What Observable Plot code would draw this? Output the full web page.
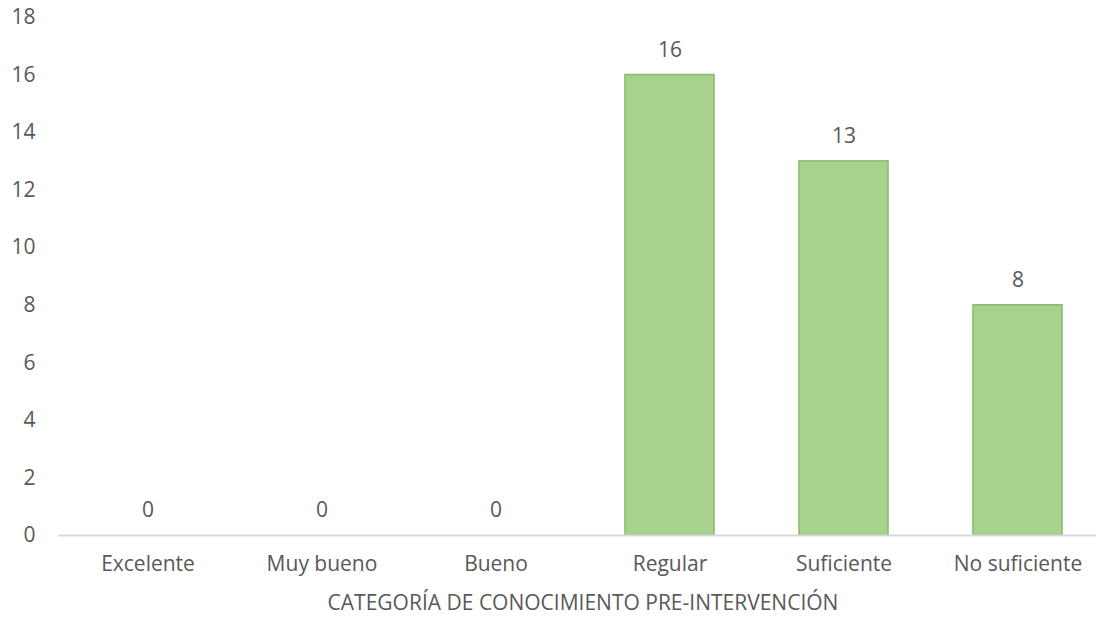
<!DOCTYPE html>
<html>
<head>
<meta charset="utf-8">
<script src="https://cdn.jsdelivr.net/npm/d3@7"></script>
<script src="https://cdn.jsdelivr.net/npm/@observablehq/plot@0.6"></script>
<style>
  html, body { margin: 0; padding: 0; background: #fff; overflow: hidden; }
  #chart { width: 1096px; height: 618px; overflow: hidden; }
  #chart svg { max-width: none !important; width: 1108px !important; height: 618px !important; font-family: "Open Sans", sans-serif; }
</style>
</head>
<body>
<div id="chart"></div>
<script>
const categories = ["Excelente", "Muy bueno", "Bueno", "Regular", "Suficiente", "No suficiente"];
const values = [0, 0, 0, 16, 13, 8];
const yTicks = [0, 2, 4, 6, 8, 10, 12, 14, 16, 18];
const xTitle = "CATEGORÍA DE CONOCIMIENTO PRE-INTERVENCIÓN";

const data = categories.map((c, i) => ({category: c, value: values[i]}));

const chart = Plot.plot({
  width: 1108,
  height: 618,
  marginLeft: 58,
  marginRight: 1,
  marginTop: 17,
  marginBottom: 83,
  style: {fontFamily: "Open Sans, sans-serif", fontSize: "21px", color: "#595959", background: "#fff", maxWidth: "none"},
  x: {domain: categories, paddingInner: 0.49, paddingOuter: 0.245, label: null},
  y: {domain: [0, 18], ticks: yTicks, label: null},
  marks: [
    Plot.barY(data, {x: "category", y: "value", fill: "#a9d18e", stroke: "#88b96c", strokeWidth: 1.5}),
    Plot.ruleY([0], {stroke: "#d9d9d9", strokeWidth: 2}),
    Plot.text(data, {x: "category", y: "value", text: d => String(d.value), dy: -25, fill: "#595959", fontSize: 21}),
    Plot.axisY({ticks: yTicks, tickSize: 0, tickPadding: 23, fontSize: 21, fill: "#595959", label: null}),
    Plot.axisX({tickSize: 0, tickPadding: 21, fontSize: 21, fill: "#595959", label: null}),
    Plot.text([xTitle], {frameAnchor: "bottom", lineAnchor: "middle", dy: 68, fontSize: 21, fill: "#595959"})
  ]
});
document.getElementById("chart").appendChild(chart);
</script>
</body>
</html>
